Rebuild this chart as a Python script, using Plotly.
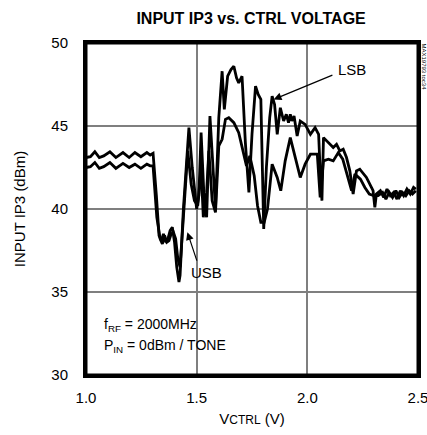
import plotly.graph_objects as go

# ---- data ----
v_lsb = [1.00, 1.02, 1.04, 1.06, 1.08, 1.108, 1.135, 1.167, 1.195, 1.221, 1.248, 1.275, 1.29, 1.303,
         1.318, 1.33, 1.34, 1.35, 1.36, 1.37, 1.38, 1.39, 1.40, 1.41, 1.42, 1.425, 1.44, 1.465, 1.48,
         1.50, 1.51, 1.52, 1.535, 1.545, 1.56, 1.575, 1.585, 1.60, 1.615, 1.625, 1.64, 1.655, 1.668,
         1.68, 1.69, 1.705, 1.72, 1.736, 1.75, 1.766, 1.778, 1.79, 1.797, 1.803, 1.815, 1.83, 1.841,
         1.852, 1.864, 1.878, 1.893, 1.905, 1.915, 1.923, 1.93, 1.94, 1.954, 1.968, 1.99, 2.014, 2.035,
         2.051, 2.058, 2.066, 2.073, 2.095, 2.117, 2.132, 2.147, 2.162, 2.177, 2.192, 2.207, 2.222,
         2.237, 2.267, 2.282, 2.297, 2.305, 2.312, 2.33, 2.345, 2.36, 2.375, 2.39, 2.405, 2.42, 2.435,
         2.45, 2.465, 2.48, 2.49]
ip3_lsb = [43.1, 43.15, 43.45, 43.1, 43.2, 43.45, 43.1, 43.4, 43.1, 43.4, 43.15, 43.4, 43.25, 43.35,
           40.8, 38.4, 38.1, 38.5, 38.0, 38.2, 38.7, 38.9, 38.0, 36.5, 35.6, 36.0, 40.0, 44.9, 42.5,
           40.0, 40.8, 44.6, 40.2, 39.5, 45.6, 42.2, 40.0, 45.5, 48.3, 46.0, 48.0, 48.4, 48.6,
           47.9, 47.6, 48.0, 44.0, 41.0, 44.5, 47.4, 46.9, 46.6, 41.5, 38.8, 42.5, 45.5, 46.8,
           46.3, 44.5, 46.1, 45.3, 45.7, 45.2, 45.7, 45.3, 45.6, 44.4, 45.3, 45.1, 44.5, 44.9,
           44.5, 42.3, 40.5, 44.3, 44.0, 43.7, 43.9, 43.5, 43.6, 43.1, 42.3, 40.9, 42.3,
           42.4, 41.9, 41.5, 41.1, 40.1, 40.9, 41.1, 40.7, 41.2, 40.8, 41.0, 40.6, 41.1, 40.8,
           41.2, 40.9, 41.3, 41.2]

v_usb = [1.00, 1.02, 1.04, 1.06, 1.08, 1.108, 1.135, 1.167, 1.195, 1.221, 1.248, 1.275, 1.29, 1.303,
         1.32, 1.335, 1.345, 1.355, 1.365, 1.375, 1.385, 1.395, 1.405, 1.415, 1.425, 1.445, 1.46,
         1.475, 1.49, 1.505, 1.52, 1.53, 1.545, 1.555, 1.57, 1.585, 1.60, 1.615, 1.63, 1.645, 1.668,
         1.69, 1.71, 1.725, 1.74, 1.76, 1.775, 1.79, 1.805, 1.82, 1.841, 1.864, 1.88, 1.90, 1.923,
         1.945, 1.968, 1.99, 2.014, 2.045, 2.058, 2.073, 2.095, 2.117, 2.14, 2.16, 2.185, 2.2, 2.215,
         2.24, 2.26, 2.28, 2.3, 2.32, 2.34, 2.355, 2.37, 2.385, 2.40, 2.415, 2.43, 2.445, 2.46, 2.475,
         2.49]
ip3_usb = [42.5, 42.55, 42.8, 42.45, 42.55, 42.8, 42.45, 42.75, 42.5, 42.7, 42.45, 42.7, 42.6, 42.6,
           39.5, 38.2, 37.9, 38.4, 38.0, 38.1, 38.5, 38.6, 38.2, 37.0, 36.5, 40.5, 43.5,
           41.5, 40.5, 40.2, 42.5, 39.5, 41.0, 43.5, 40.5, 39.8, 43.8, 44.2, 45.4, 45.5, 45.2,
           44.6, 43.4, 42.6, 43.2, 42.0, 40.2, 39.2, 39.2, 40.0, 42.7, 41.9, 41.1, 42.9, 44.3,
           43.1, 41.9, 42.7, 43.3, 43.3, 40.7, 42.9, 43.0, 42.9, 43.4, 43.0, 41.9, 41.1, 42.1,
           41.8, 41.3, 40.9, 40.8, 40.8, 41.0, 40.6, 41.0, 40.7, 41.1, 40.7, 41.0, 40.8, 41.1, 40.9,
           41.1]

x_ticks = [1.0, 1.5, 2.0, 2.5]
y_ticks = [30, 35, 40, 45, 50]

FONT = "Liberation Sans, Arial, sans-serif"

fig = go.Figure()
for vx, vy, nm in [(v_usb, ip3_usb, "USB"), (v_lsb, ip3_lsb, "LSB")]:
    fig.add_trace(go.Scatter(x=vx, y=vy, mode="lines", name=nm,
                             line=dict(color="black", width=2.8), showlegend=False))

ax_common = dict(showline=True, linecolor="black", linewidth=3, mirror=True,
                 showgrid=True, gridcolor="#7f7f7f", gridwidth=1.5, zeroline=False,
                 ticks="outside", tickcolor="rgba(0,0,0,0)", automargin=False,
                 ticklabeloverflow="allow",
                 tickfont=dict(family=FONT, size=15, color="black"))

fig.update_xaxes(range=[1.0, 2.5], tickvals=x_ticks, ticktext=[f"{t:.1f}" for t in x_ticks],
                 ticklen=7,
                 title=dict(text="V<span style='font-size:12px'>CTRL</span> (V)",
                            font=dict(family=FONT, size=15, color="black"), standoff=9),
                 **ax_common)
fig.update_yaxes(range=[30, 50], tickvals=y_ticks, ticktext=[str(t) for t in y_ticks],
                 ticklen=12,
                 title=dict(text="INPUT IP3 (dBm)", font=dict(family=FONT, size=15, color="black"),
                            standoff=23),
                 **ax_common)

fig.add_shape(type="rect", xref="paper", yref="paper", x0=0, x1=1, y0=0, y1=1,
              line=dict(color="black", width=3), fillcolor="rgba(0,0,0,0)", layer="above")

fig.update_layout(
    width=427, height=435,
    margin=dict(l=86, r=9, t=43, b=60),
    plot_bgcolor="white", paper_bgcolor="white",
    title=dict(text="<b>INPUT IP3 vs. CTRL VOLTAGE</b>", x=0.588, xanchor="center", y=0.958,
               yanchor="middle", font=dict(family=FONT, size=16, color="black")),
    annotations=[
        dict(x=1.848, y=46.6, ax=2.12, ay=48.1, xref="x", yref="y", axref="x", ayref="y",
             showarrow=True, arrowhead=2, arrowsize=1.3, arrowwidth=1.2, arrowcolor="black", text=""),
        dict(x=2.13, y=48.4, xref="x", yref="y", text="LSB", showarrow=False, xanchor="left",
             font=dict(family=FONT, size=15, color="black")),
        dict(x=1.458, y=38.6, ax=1.503, ay=36.8, xref="x", yref="y", axref="x", ayref="y",
             showarrow=True, arrowhead=2, arrowsize=1.3, arrowwidth=1.2, arrowcolor="black", text=""),
        dict(x=1.466, y=36.2, xref="x", yref="y", text="USB", showarrow=False, xanchor="left",
             font=dict(family=FONT, size=15, color="black")),
        dict(x=1.072, y=33.0, xref="x", yref="y", text="f<sub>RF</sub> = 2000MHz", showarrow=False,
             xanchor="left", font=dict(family=FONT, size=14, color="black")),
        dict(x=1.072, y=31.75, xref="x", yref="y", text="P<sub>IN</sub> = 0dBm / TONE", showarrow=False,
             xanchor="left", font=dict(family=FONT, size=14, color="black")),
        dict(x=1.0, y=1.0, xref="paper", yref="paper", xshift=6, yshift=2, text="MAX19793 toc34",
             showarrow=False, textangle=90, xanchor="center", yanchor="top",
             font=dict(family=FONT, size=6, color="black")),
    ],
)

fig.write_html("out.html", config={"displayModeBar": False},
               post_script="document.body.style.margin='0px';document.body.style.overflow='hidden';")
